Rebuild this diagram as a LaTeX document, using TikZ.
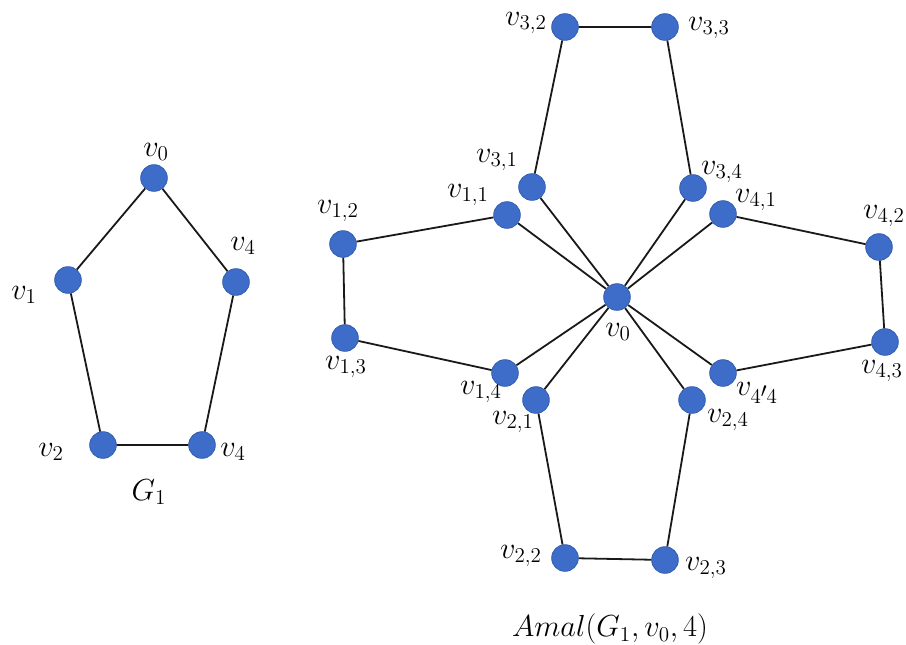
\documentclass[tikz,border=0pt]{standalone}
\definecolor{nodeblue}{RGB}{62,109,201}
\definecolor{nodeedge}{RGB}{50,92,178}
\tikzset{
  vtx/.style={circle,fill=nodeblue,draw=nodeedge,line width=0.6pt,minimum size=20pt,inner sep=0pt},
  lbl/.style={inner sep=0pt,font=\huge,scale=1.1,transform shape},
  edge/.style={draw=black!90,line width=1.35pt}
}
\begin{document}
\begin{tikzpicture}[x=0.75pt,y=-0.75pt]
\useasboundingbox (0,0) rectangle (906,644);
% ---- G1 ----
\node[vtx] (a0) at (154,178) {};
\node[vtx] (a1) at (68,280) {};
\node[vtx] (a4) at (236,282) {};
\node[vtx] (a2) at (103,445) {};
\node[vtx] (a5) at (202,445) {};
\draw[edge] (a0) -- (a1) -- (a2) -- (a5) -- (a4) -- (a0);
\node[lbl] (la0) at (156,152) {$v_0$};
\node[lbl] (la1) at (24,295) {$v_1$};
\node[lbl] (la4) at (243,246) {$v_4$};
\node[lbl] (la2) at (51,452) {$v_2$};
\node[lbl] (la5) at (233,452) {$v_4$};
\node[lbl] (lg) at (149,492) {$G_1$};
% ---- Amal ----
\node[vtx] (c) at (617,297) {};
\node[vtx] (p11) at (507,215) {};
\node[vtx] (p12) at (343,244) {};
\node[vtx] (p13) at (345,338) {};
\node[vtx] (p14) at (505,373) {};
\node[vtx] (p21) at (536,400) {};
\node[vtx] (p22) at (565,558) {};
\node[vtx] (p23) at (665,560) {};
\node[vtx] (p24) at (692,400) {};
\node[vtx] (p31) at (532,187) {};
\node[vtx] (p32) at (565,27) {};
\node[vtx] (p33) at (665,27) {};
\node[vtx] (p34) at (693,188) {};
\node[vtx] (p41) at (723,214) {};
\node[vtx] (p42) at (879,247) {};
\node[vtx] (p43) at (885,342) {};
\node[vtx] (p44) at (723,373) {};
\draw[edge] (c) -- (p11) -- (p12) -- (p13) -- (p14) -- (c);
\draw[edge] (c) -- (p21) -- (p22) -- (p23) -- (p24) -- (c);
\draw[edge] (c) -- (p31) -- (p32) -- (p33) -- (p34) -- (c);
\draw[edge] (c) -- (p41) -- (p42) -- (p43) -- (p44) -- (c);
\node[lbl] (lc) at (618,332) {$v_0$};
\node[lbl] (l11) at (468,195) {$v_{1,1}$};
\node[lbl] (l12) at (338,211) {$v_{1,2}$};
\node[lbl] (l13) at (346,367) {$v_{1,3}$};
\node[lbl] (l14) at (481,392) {$v_{1,4}$};
\node[lbl] (l21) at (513,422) {$v_{2,1}$};
\node[lbl] (l22) at (521,556) {$v_{2,2}$};
\node[lbl] (l23) at (706,568) {$v_{2,3}$};
\node[lbl] (l24) at (728,420) {$v_{2,4}$};
\node[lbl] (l31) at (497,160) {$v_{3,1}$};
\node[lbl] (l32) at (526,23) {$v_{3,2}$};
\node[lbl] (l33) at (709,28) {$v_{3,3}$};
\node[lbl] (l34) at (722,172) {$v_{3,4}$};
\node[lbl] (l41) at (756,200) {$v_{4,1}$};
\node[lbl] (l42) at (884,216) {$v_{4,2}$};
\node[lbl] (l43) at (882,371) {$v_{4,3}$};
\node[lbl] (l44) at (757,393) {$v_{4\raisebox{0.45ex}{$\scriptstyle\prime$}4}$};
\node[lbl] (lam) at (610,629) {$Amal(G_1,v_0,4)$};
\end{tikzpicture}
\end{document}
